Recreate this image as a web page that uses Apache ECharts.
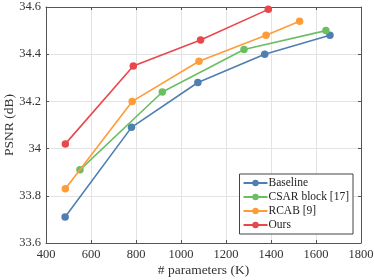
<!DOCTYPE html>
<html><head><meta charset="utf-8">
<script src="https://cdn.jsdelivr.net/npm/echarts@6/dist/echarts.min.js"></script>
<style>html,body{margin:0;padding:0;background:#fff}#c{width:374px;height:280px}</style>
</head><body><div id="c"></div>
<script>
var seriesNames = ['Baseline', 'CSAR block [17]', 'RCAB [9]', 'Ours'];
var colors = ['#4f7fb0', '#6bbf63', '#ff9c38', '#e8474c'];
var baselineX = [485, 780, 1075, 1372, 1662];
var baselineY = [33.71, 34.09, 34.28, 34.40, 34.48];
var csarX = [551, 917, 1280, 1644];
var csarY = [33.91, 34.24, 34.42, 34.50];
var rcabX = [486, 783, 1080, 1378, 1527];
var rcabY = [33.83, 34.20, 34.37, 34.48, 34.54];
var oursX = [486, 788, 1087, 1388];
var oursY = [34.02, 34.35, 34.46, 34.59];
var xTicks = [400, 600, 800, 1000, 1200, 1400, 1600, 1800];
var yTicks = [33.6, 33.8, 34, 34.2, 34.4, 34.6];

function pairs(xs, ys){ return xs.map(function(x,i){return [x, ys[i]];}); }
var allX = [baselineX, csarX, rcabX, oursX];
var allY = [baselineY, csarY, rcabY, oursY];
var font = 'Liberation Serif';
var chart = echarts.init(document.getElementById('c'), null, {renderer:'canvas'});
var axisLine = {show:true, lineStyle:{color:'#555', width:1}};
chart.setOption({
  backgroundColor:'#fff',
  animation:false,
  grid:{left:46, right:13, top:7, bottom:37, containLabel:false, outerBoundsMode:'none'},
  legend:{
    data: seriesNames, orient:'vertical', right:21, bottom:46,
    backgroundColor:'#fff', borderColor:'#444', borderWidth:1, borderRadius:0,
    padding:[3,4,3,3], itemGap:2, itemWidth:24, itemHeight:8,
    textStyle:{fontFamily:font, fontSize:11.5, color:'#222', padding:[0,0,0,-4]}
  },
  xAxis:[{
    type:'value', min:400, max:1800, interval:200,
    name:'# parameters (K)', nameLocation:'middle', nameGap:20, nameMoveOverlap:false,
    nameTextStyle:{fontFamily:font, fontSize:13.5, color:'#333'},
    axisLine:axisLine, axisTick:{show:true, inside:true, length:3, lineStyle:{color:'#555'}},
    axisLabel:{fontFamily:font, fontSize:12.5, color:'#333', margin:5,
      formatter:function(v){return xTicks.indexOf(v)>=0? String(v):'';}},
    splitLine:{show:true, lineStyle:{color:'#e3e3e3', width:1}}
  },{
    type:'value', position:'top', min:400, max:1800, interval:200,
    axisLine:axisLine, axisTick:{show:true, inside:true, length:3, lineStyle:{color:'#555'}},
    axisLabel:{show:false}, splitLine:{show:false}
  }],
  yAxis:[{
    type:'value', min:33.6, max:34.6, interval:0.2,
    name:'PSNR (dB)', nameLocation:'middle', nameGap:30, nameMoveOverlap:false,
    nameTextStyle:{fontFamily:font, fontSize:13.5, color:'#333'},
    axisLine:axisLine, axisTick:{show:true, inside:true, length:3, lineStyle:{color:'#555'}},
    axisLabel:{fontFamily:font, fontSize:12.5, color:'#333', margin:5,
      formatter:function(v){return String(+v.toFixed(1));}},
    splitLine:{show:true, lineStyle:{color:'#e3e3e3', width:1}}
  },{
    type:'value', position:'right', min:33.6, max:34.6, interval:0.2,
    axisLine:axisLine, axisTick:{show:true, inside:true, length:3, lineStyle:{color:'#555'}},
    axisLabel:{show:false}, splitLine:{show:false}
  }],
  series: seriesNames.map(function(n,i){
    return {name:n, type:'line', data:pairs(allX[i], allY[i]),
      symbol:'circle', symbolSize:7.5, color:colors[i],
      lineStyle:{width:1.6, color:colors[i]}, itemStyle:{color:colors[i]}, z:2+i};
  })
});
</script></body></html>
